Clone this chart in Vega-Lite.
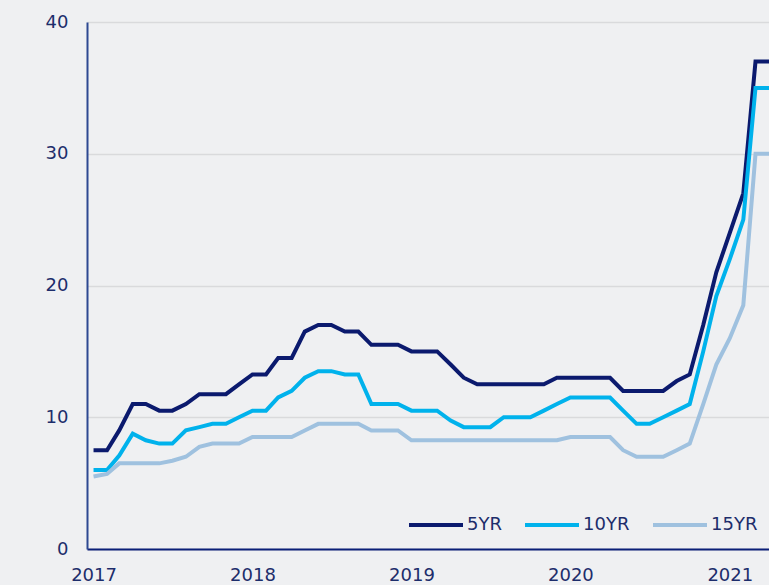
{
  "$schema": "https://vega.github.io/schema/vega-lite/v6.json",
  "width": 682,
  "height": 527,
  "autosize": {"type": "none"},
  "padding": {"left": 87, "top": 22, "right": 0, "bottom": 36},
  "background": "#eff0f2",
  "config": {
    "view": {"stroke": null},
    "font": "DejaVu Sans",
    "axis": {"labelFont": "DejaVu Sans", "labelFontSize": 18, "labelColor": "#1d2d6b", "ticks": false, "tickSize": 0, "title": null},
    "legend": {"labelFont": "DejaVu Sans", "labelFontSize": 18, "labelColor": "#1d2d6b"}
  },
  "data": {
    "values": [
      {"date": "2017-01-01", "5YR": 7.5, "10YR": 6.0, "15YR": 5.5},
      {"date": "2017-02-01", "5YR": 7.5, "10YR": 6.0, "15YR": 5.7},
      {"date": "2017-03-01", "5YR": 9.0, "10YR": 7.1, "15YR": 6.5},
      {"date": "2017-04-01", "5YR": 11.0, "10YR": 8.75, "15YR": 6.5},
      {"date": "2017-05-01", "5YR": 11.0, "10YR": 8.25, "15YR": 6.5},
      {"date": "2017-06-01", "5YR": 10.5, "10YR": 8.0, "15YR": 6.5},
      {"date": "2017-07-01", "5YR": 10.5, "10YR": 8.0, "15YR": 6.7},
      {"date": "2017-08-01", "5YR": 11.0, "10YR": 9.0, "15YR": 7.0},
      {"date": "2017-09-01", "5YR": 11.75, "10YR": 9.25, "15YR": 7.75},
      {"date": "2017-10-01", "5YR": 11.75, "10YR": 9.5, "15YR": 8.0},
      {"date": "2017-11-01", "5YR": 11.75, "10YR": 9.5, "15YR": 8.0},
      {"date": "2017-12-01", "5YR": 12.5, "10YR": 10.0, "15YR": 8.0},
      {"date": "2018-01-01", "5YR": 13.25, "10YR": 10.5, "15YR": 8.5},
      {"date": "2018-02-01", "5YR": 13.25, "10YR": 10.5, "15YR": 8.5},
      {"date": "2018-03-01", "5YR": 14.5, "10YR": 11.5, "15YR": 8.5},
      {"date": "2018-04-01", "5YR": 14.5, "10YR": 12.0, "15YR": 8.5},
      {"date": "2018-05-01", "5YR": 16.5, "10YR": 13.0, "15YR": 9.0},
      {"date": "2018-06-01", "5YR": 17.0, "10YR": 13.5, "15YR": 9.5},
      {"date": "2018-07-01", "5YR": 17.0, "10YR": 13.5, "15YR": 9.5},
      {"date": "2018-08-01", "5YR": 16.5, "10YR": 13.25, "15YR": 9.5},
      {"date": "2018-09-01", "5YR": 16.5, "10YR": 13.25, "15YR": 9.5},
      {"date": "2018-10-01", "5YR": 15.5, "10YR": 11.0, "15YR": 9.0},
      {"date": "2018-11-01", "5YR": 15.5, "10YR": 11.0, "15YR": 9.0},
      {"date": "2018-12-01", "5YR": 15.5, "10YR": 11.0, "15YR": 9.0},
      {"date": "2019-01-01", "5YR": 15.0, "10YR": 10.5, "15YR": 8.25},
      {"date": "2019-02-01", "5YR": 15.0, "10YR": 10.5, "15YR": 8.25},
      {"date": "2019-03-01", "5YR": 15.0, "10YR": 10.5, "15YR": 8.25},
      {"date": "2019-04-01", "5YR": 14.0, "10YR": 9.75, "15YR": 8.25},
      {"date": "2019-05-01", "5YR": 13.0, "10YR": 9.25, "15YR": 8.25},
      {"date": "2019-06-01", "5YR": 12.5, "10YR": 9.25, "15YR": 8.25},
      {"date": "2019-07-01", "5YR": 12.5, "10YR": 9.25, "15YR": 8.25},
      {"date": "2019-08-01", "5YR": 12.5, "10YR": 10.0, "15YR": 8.25},
      {"date": "2019-09-01", "5YR": 12.5, "10YR": 10.0, "15YR": 8.25},
      {"date": "2019-10-01", "5YR": 12.5, "10YR": 10.0, "15YR": 8.25},
      {"date": "2019-11-01", "5YR": 12.5, "10YR": 10.5, "15YR": 8.25},
      {"date": "2019-12-01", "5YR": 13.0, "10YR": 11.0, "15YR": 8.25},
      {"date": "2020-01-01", "5YR": 13.0, "10YR": 11.5, "15YR": 8.5},
      {"date": "2020-02-01", "5YR": 13.0, "10YR": 11.5, "15YR": 8.5},
      {"date": "2020-03-01", "5YR": 13.0, "10YR": 11.5, "15YR": 8.5},
      {"date": "2020-04-01", "5YR": 13.0, "10YR": 11.5, "15YR": 8.5},
      {"date": "2020-05-01", "5YR": 12.0, "10YR": 10.5, "15YR": 7.5},
      {"date": "2020-06-01", "5YR": 12.0, "10YR": 9.5, "15YR": 7.0},
      {"date": "2020-07-01", "5YR": 12.0, "10YR": 9.5, "15YR": 7.0},
      {"date": "2020-08-01", "5YR": 12.0, "10YR": 10.0, "15YR": 7.0},
      {"date": "2020-09-01", "5YR": 12.75, "10YR": 10.5, "15YR": 7.5},
      {"date": "2020-10-01", "5YR": 13.25, "10YR": 11.0, "15YR": 8.0},
      {"date": "2020-11-01", "5YR": 17.0, "10YR": 15.0, "15YR": 11.0},
      {"date": "2020-12-01", "5YR": 21.0, "10YR": 19.2, "15YR": 14.0},
      {"date": "2021-01-01", "5YR": 24.0, "10YR": 22.0, "15YR": 16.0},
      {"date": "2021-02-01", "5YR": 27.0, "10YR": 25.0, "15YR": 18.5},
      {"date": "2021-03-01", "5YR": 37.0, "10YR": 35.0, "15YR": 30.0},
      {"date": "2021-04-01", "5YR": 37.0, "10YR": 35.0, "15YR": 30.0}
    ]
  },
  "transform": [{"fold": ["5YR", "10YR", "15YR"], "as": ["series", "value"]}],
  "mark": {"type": "line", "strokeWidth": 4, "clip": true},
  "encoding": {
    "x": {
      "field": "date",
      "type": "temporal",
      "scale": {"type": "utc", "domain": ["2016-12-17", "2021-04-01"]},
      "axis": {
        "format": "%Y",
        "tickCount": {"interval": "year", "step": 1},
        "grid": false,
        "domainColor": "#0b1f78",
        "domainWidth": 2,
        "labelPadding": 17,
        "labelAngle": 0
      }
    },
    "y": {
      "field": "value",
      "type": "quantitative",
      "scale": {"domain": [0, 40], "nice": false},
      "axis": {
        "values": [0, 10, 20, 30, 40],
        "grid": true,
        "gridColor": "#d9dadc",
        "gridWidth": 1.5,
        "domainColor": "#2d4891",
        "domainWidth": 2,
        "labelPadding": 19
      }
    },
    "color": {
      "field": "series",
      "type": "nominal",
      "scale": {"domain": ["5YR", "10YR", "15YR"], "range": ["#0b1a6e", "#00b2ec", "#9fc1df"]},
      "legend": {
        "title": null,
        "orient": "none",
        "direction": "horizontal",
        "legendX": 320,
        "legendY": 474,
        "symbolType": "stroke",
        "symbolSize": 2916,
        "symbolStrokeWidth": 4,
        "labelOffset": 2,
        "columnPadding": 15,
        "gridAlign": "none",
        "padding": 0
      }
    }
  }
}
